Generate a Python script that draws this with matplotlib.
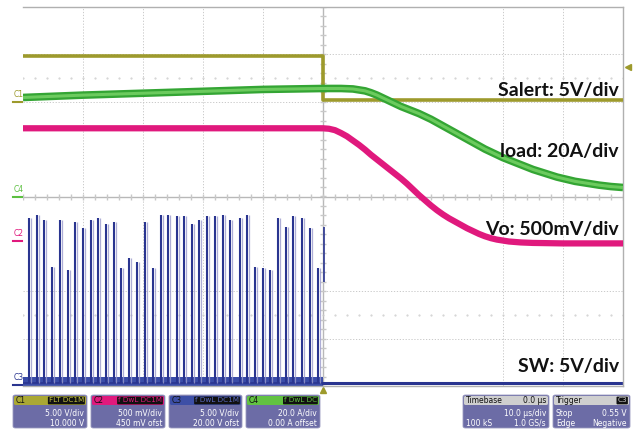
import matplotlib
matplotlib.use("Agg")
import matplotlib.pyplot as plt
from matplotlib.patches import FancyBboxPatch
import numpy as np

# Осциллограмма: 10 мкс/дел, сетка 10 x 8 делений, значения в делениях
W, H = 634, 433

# C1 (Salert), уровень в делениях
salert_t = [-50, 0, 0, 50]
salert_v = [2.96, 2.96, 2.03, 2.03]

# C4 (ток нагрузки)
load_t = [-50, -40, -30, -20, -10, 0, 3, 5, 6, 7, 8, 9, 10, 11, 12, 13, 14, 15, 16, 17,
          18, 19, 20, 21, 22, 23, 24, 25, 26, 27, 28, 29, 30, 31, 32, 33, 34, 35, 36,
          37, 38, 39, 40, 42, 44, 46, 48, 50]
load_v = [2.09, 2.14, 2.18, 2.22, 2.26, 2.28, 2.28, 2.27, 2.25, 2.23, 2.19, 2.14, 2.08,
          2.02, 1.96, 1.90, 1.85, 1.80, 1.75, 1.69, 1.63, 1.56, 1.49, 1.42, 1.35, 1.28,
          1.21, 1.14, 1.07, 1.00, 0.94, 0.88, 0.82, 0.77, 0.72, 0.67, 0.62, 0.57, 0.53,
          0.49, 0.45, 0.41, 0.38, 0.32, 0.28, 0.24, 0.21, 0.19]

# C2 (Vo)
vo_t = [-50, -20, 0, 1, 2, 3, 4, 5, 6, 7, 8, 9, 10, 11, 12, 13, 14, 15, 16, 17, 18, 19,
        20, 21, 22, 23, 24, 25, 26, 27, 28, 29, 30, 31, 33, 35, 40, 50]
vo_v = [1.44, 1.44, 1.44, 1.43, 1.40, 1.34, 1.27, 1.18, 1.09, 0.99, 0.88, 0.78, 0.68,
        0.58, 0.48, 0.38, 0.27, 0.15, 0.03, -0.08, -0.19, -0.29, -0.38, -0.46, -0.53,
        -0.60, -0.67, -0.73, -0.79, -0.84, -0.88, -0.91, -0.93, -0.95, -0.97, -0.98,
        -0.99, -0.99]

# C3 (SW): импульсы до триггера
sw_base = -3.93
pulse_t = [-49.0, -47.7, -46.5, -45.2, -43.8, -42.5, -41.3, -40.0, -38.7, -37.5,
           -36.2, -34.8, -33.7, -32.3, -31.0, -29.7, -28.3, -27.0, -25.8, -24.3,
           -23.2, -21.8, -20.7, -19.3, -18.0, -16.7, -15.5, -13.8, -12.7, -11.3,
           -10.0, -8.8, -7.5, -6.2, -5.0, -3.5, -2.2, -0.8]
pulse_top = [-0.45, -0.39, -0.50, -1.49, -0.50, -1.55, -0.54, -0.66, -0.50, -0.45,
             -0.58, -0.54, -1.51, -1.30, -1.38, -0.54, -1.51, -0.39, -0.39, -0.41,
             -0.41, -0.58, -0.50, -0.41, -0.41, -0.39, -0.50, -0.45, -0.39, -1.49,
             -1.51, -1.55, -0.45, -0.64, -0.41, -0.45, -0.66, -1.51]

# Подписи каналов
labels = ["Salert: 5V/div", "load: 20A/div", "Vo: 500mV/div", "SW: 5V/div"]
label_y = [2.23, 0.94, -0.69, -3.58]

OLIVE = "#9d9a2c"
MAGENTA = "#e0197d"
BLUE = "#2a3590"
GRID = "#c2c2c2"

fig = plt.figure(figsize=(W / 100, H / 100), dpi=100)
ax = fig.add_axes([23 / W, 1 - 386 / H, 600 / W, 379 / H])
ax.set_xlim(-50, 50)
ax.set_ylim(-4, 4)
ax.set_xticks([])
ax.set_yticks([])
ax.spines["left"].set_visible(False)
for side in ["top", "right", "bottom"]:
    ax.spines[side].set_color("#b0b0b0")
    ax.spines[side].set_linewidth(1.0)

# сетка
for gx in [-40, -30, -20, -10, 30, 40]:
    ax.axvline(gx, color=GRID, lw=0.6, ls=(0, (1.5, 2)), zorder=0)
for gy in [3, 2, -2, -3]:
    ax.axhline(gy, color=GRID, lw=0.6, ls=(0, (1.5, 2)), zorder=0)
ax.axhline(0, color="#b8b8b8", lw=1.0, zorder=0)
ax.axvline(0, color="#b8b8b8", lw=1.0, zorder=0)
minor_x = np.arange(-50, 50.1, 2)
minor_y = np.arange(-4, 4.01, 0.2)
ax.plot(minor_x, np.zeros_like(minor_x), ls="none", marker="|", ms=4, color="#c8c8c8", zorder=0)
ax.plot(np.zeros_like(minor_y), minor_y, ls="none", marker="_", ms=4, color="#c8c8c8", zorder=0)
for dy in [2.5, -2.5]:
    ax.plot(minor_x, np.full_like(minor_x, dy), ls="none", marker=".", ms=1.0, color="#cccccc", zorder=0)

# C3: полоса базовой линии и импульсы
ax.fill_between([-50, 0], [sw_base - 0.07] * 2, [sw_base + 0.11] * 2, color="#3a4ca8", lw=0, zorder=2)
ax.plot([-50, 0], [sw_base, sw_base], color=BLUE, lw=1.2, zorder=2)
ax.plot([0, 50], [sw_base, sw_base], color=BLUE, lw=2.2, zorder=2)
ax.vlines([p + 0.3 for p in pulse_t], sw_base, pulse_top, color="#9a9acc", lw=0.9, alpha=0.8, zorder=2)
ax.vlines(pulse_t, sw_base, pulse_top, color=BLUE, lw=1.5, zorder=2)
ax.vlines([0.2], -1.8, -0.65, color=BLUE, lw=1.2, zorder=2)

# C1, C4, C2
ax.plot(salert_t, salert_v, color=OLIVE, lw=2.6, zorder=3)
ax.plot(load_t, load_v, color="#34a534", lw=5.5, solid_capstyle="butt", solid_joinstyle="round", zorder=4)
ax.plot(load_t, load_v, color="#6ccb5e", lw=2.2, solid_capstyle="butt", solid_joinstyle="round", zorder=4)
ax.plot(vo_t, vo_v, color=MAGENTA, lw=4.5, solid_capstyle="butt", solid_joinstyle="round", zorder=4)

for text, y in zip(labels, label_y):
    ax.text(49.3, y, text, ha="right", va="center", fontsize=14,
            fontweight="bold", family="Lato", color="#111111", zorder=6)

# маркеры каналов слева
yt = ax.get_yaxis_transform()
for name, y, c in [("C1", 2.0, OLIVE), ("C4", 0.0, "#5cc040"), ("C2", -0.94, MAGENTA), ("C3", -3.97, BLUE)]:
    ax.plot([-0.017, -0.002], [y, y], color=c, lw=1.5, transform=yt, clip_on=False)
    ax.text(-0.016, y + 0.06, name, transform=yt, fontsize=5.5, color=c,
            ha="left", va="bottom", clip_on=False)
ax.plot([1.009], [2.73], marker="<", ms=4, color=OLIVE, transform=yt, clip_on=False)
ax.plot([0], [-0.011], marker="^", ms=4, color=OLIVE, transform=ax.get_xaxis_transform(), clip_on=False)


# информационные панели внизу
def fx(px):
    return px / W


def fy(py):
    return 1 - py / H


BODY = "#6c6ca6"


def panel(x0, x1, head_color, head_left, head_right, line1, line2, tag_color=None):
    fig.patches.append(FancyBboxPatch((fx(x0), fy(428)), fx(x1 - x0), (428 - 395) / H,
                                      boxstyle="round,pad=0,rounding_size=0.004",
                                      transform=fig.transFigure, fc=BODY, ec="#9a9ac0", lw=0.6))
    fig.patches.append(FancyBboxPatch((fx(x0 + 1), fy(405)), fx(x1 - x0 - 2), 9 / H,
                                      boxstyle="round,pad=0,rounding_size=0.003",
                                      transform=fig.transFigure, fc=head_color, ec="none"))
    fig.text(fx(x0 + 3), fy(400.5), head_left, fontsize=5.5, color="#111111", va="center", ha="left")
    if tag_color is None:
        fig.text(fx(x1 - 3), fy(400.5), head_right, fontsize=5.5, color="#111111", va="center", ha="right")
    else:
        fig.text(fx(x1 - 3), fy(400.5), head_right, fontsize=5.2, color=tag_color, va="center", ha="right",
                 bbox=dict(boxstyle="round,pad=0.12", fc="#111111", ec="none"))
    for py, parts in [(413, line1), (423, line2)]:
        if isinstance(parts, tuple):
            fig.text(fx(x0 + 3), fy(py), parts[0], fontsize=5.5, color="white", va="center", ha="left")
            fig.text(fx(x1 - 3), fy(py), parts[1], fontsize=5.5, color="white", va="center", ha="right")
        else:
            fig.text(fx(x1 - 3), fy(py), parts, fontsize=5.5, color="white", va="center", ha="right")


panel(13, 87, "#aaa834", "C1", "FLT DC1M", "5.00 V/div", "10.000 V", tag_color="#c8c640")
panel(91, 165, "#e0197d", "C2", "f DwL DC1M", "500 mV/div", "450 mV ofst", tag_color="#e0197d")
panel(169, 242, "#3d4fa6", "C3", "f DwL DC1M", "5.00 V/div", "20.00 V ofst", tag_color="#5a6ac0")
panel(246, 320, "#62c242", "C4", "f DwL DC", "20.0 A/div", "0.00 A offset", tag_color="#62c242")
panel(463, 549, "#cfcfcf", "Timebase", "0.0 µs", "10.0 µs/div", ("100 kS", "1.0 GS/s"))
panel(553, 630, "#cfcfcf", "Trigger", "C3", ("Stop", "0.55 V"), ("Edge", "Negative"), tag_color="#cfcfcf")

fig.savefig("out.png", dpi=100)
